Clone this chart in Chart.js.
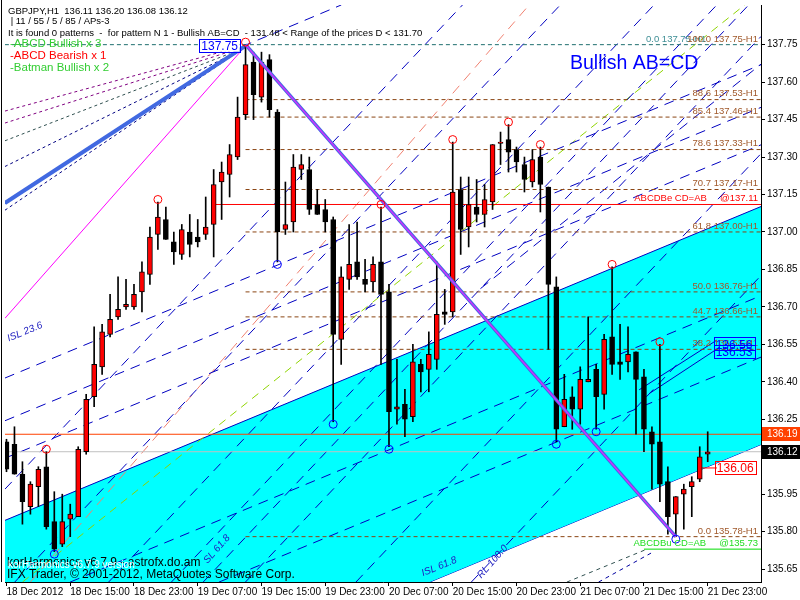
<!DOCTYPE html>
<html>
<head>
<meta charset="utf-8">
<script src="https://cdn.jsdelivr.net/npm/chart.js@4.4.1/dist/chart.umd.min.js"></script>
<style>
  html, body { margin: 0; padding: 0; background: #fff; }
  #wrap { width: 800px; height: 600px; }
</style>
</head>
<body>
<div id="wrap"><canvas id="chart" width="800" height="600"></canvas></div>
<script>
// GBPJPY H1 candles, bar 0 = 18 Dec 07:00
const opens = [136.16,136.15,136.03,135.90,135.98,136.06,135.84,135.75,135.85,135.86,
  136.12,136.34,136.46,136.59,136.66,136.70,136.70,136.76,136.83,136.99,
  137.05,136.96,136.91,137.00,136.98,136.99,137.03,137.20,137.23,137.30,
  137.47,137.68,137.54,137.69,137.48,137.01,137.04,137.25,137.25,137.11,
  137.09,137.05,136.57,136.81,136.88,136.81,136.80,136.88,136.76,136.29,
  136.31,136.26,136.47,136.45,136.49,136.68,136.68,137.17,137.02,137.10,
  137.07,137.12,137.355,137.37,137.33,137.27,137.20,137.30,137.18,136.78,
  136.22,136.34,136.29,136.40,136.45,136.35,136.58,136.48,136.48,136.52,
  136.42,136.20,136.16,136.00,135.87,135.95,135.98,136.01,136.11];
const highs = [136.17,136.22,136.08,136.00,136.06,136.12,135.96,135.95,135.91,136.14,
  136.35,136.62,136.63,136.75,136.82,136.81,136.79,136.88,137.02,137.12,
  137.10,137.00,137.03,137.07,137.05,137.14,137.25,137.28,137.35,137.54,
  137.75,137.72,137.72,137.71,137.49,137.20,137.31,137.31,137.30,137.17,
  137.13,137.06,136.86,137.03,137.04,136.89,136.90,137.10,136.79,136.49,
  136.37,136.55,136.49,136.60,136.88,136.77,137.36,137.22,137.22,137.21,
  137.19,137.35,137.40,137.43,137.34,137.30,137.33,137.34,137.18,136.82,
  136.43,136.38,136.46,136.66,136.47,136.59,136.86,136.63,136.62,136.52,
  136.45,136.22,136.55,136.06,135.94,135.99,136.02,136.14,136.20];
const lows = [136.04,136.03,135.83,135.87,135.90,135.81,135.72,135.74,135.78,135.86,
  136.11,136.30,136.43,136.58,136.65,136.69,136.69,136.68,136.79,136.93,
  136.97,136.87,136.89,136.90,136.94,136.97,136.90,137.05,137.14,137.29,
  137.45,137.45,137.52,137.46,136.88,136.99,137.00,137.21,137.07,137.07,
  137.00,136.24,136.47,136.77,136.81,136.76,136.76,136.47,136.14,136.23,
  136.18,136.24,136.36,136.36,136.45,136.63,136.66,136.91,136.94,137.04,
  137.02,137.09,137.27,137.24,137.24,137.16,137.18,137.08,136.53,136.16,
  136.22,136.21,136.23,136.40,136.21,136.29,136.43,136.41,136.44,136.19,
  136.12,135.97,135.92,135.79,135.78,135.81,135.86,136.00,136.08];
const closes = [136.05,136.03,135.92,135.99,136.05,135.82,135.73,135.84,135.87,136.13,
  136.33,136.47,136.60,136.65,136.69,136.71,136.75,136.84,136.98,137.06,
  136.97,136.92,137.01,136.95,136.96,137.02,137.19,137.24,137.31,137.46,
  137.67,137.55,137.68,137.49,137.00,137.03,137.26,137.27,137.09,137.07,
  137.04,136.59,136.82,136.87,136.82,136.79,136.87,136.75,136.28,136.30,
  136.25,136.48,136.44,136.51,136.67,136.67,137.16,137.01,137.11,137.07,
  137.13,137.35,137.36,137.32,137.28,137.21,137.29,137.19,136.79,136.21,
  136.33,136.29,136.41,136.41,136.34,136.57,136.47,136.47,136.51,136.41,
  136.21,136.15,135.99,135.86,135.94,135.97,136.00,136.10,136.12];

const xTickBars = [0, 8, 16, 24, 32, 40, 48, 56, 64, 72, 80, 88];
const xTickLabels = ['18 Dec 2012', '18 Dec 15:00', '18 Dec 23:00', '19 Dec 07:00', '19 Dec 15:00', '19 Dec 23:00',
  '20 Dec 07:00', '20 Dec 15:00', '20 Dec 23:00', '21 Dec 07:00', '21 Dec 15:00', '21 Dec 23:00'];
const yTicks = [137.75, 137.60, 137.45, 137.30, 137.15, 137.00, 136.85, 136.70, 136.55, 136.40, 136.25, 136.10, 135.95, 135.80, 135.65];

// fibo levels of the AB=CD leg
const fibLevels = [137.53, 137.46, 137.33, 137.17, 137.00, 136.76, 136.66, 136.53, 135.78];
const fibNames = ['88.6 137.53-H1', '85.4 137.46-H1', '78.6 137.33-H1', '70.7 137.17-H1', '61.8 137.00-H1',
  '50.0 136.76-H1', '44.7 136.66-H1', '38.2 136.53-H1', '0.0 135.78-H1'];

// pattern points
const highMarks = [5, 19, 30, 47, 56, 63, 67, 76, 82];
const lowMarks = [6, 34, 41, 48, 69, 74, 84];
const patternAD = [[30, 137.75], [84, 135.78]];

// channel edges [bar1, price1, bar2, price2]
const channelTop = [-0.2, 135.845, 94.7, 137.102];
const channelBottom = [-0.2, 134.892, 94.7, 136.149];

// pitchfork style dashed lines
const steepLines = [
  [-0.2, 135.970, 57.23, 137.909], [1.03, 135.598, 69.5, 137.909], [12.81, 135.598, 81.26, 137.909],
  [20.69, 135.598, 89.14, 137.909], [24.68, 135.598, 93.14, 137.909], [29.98, 135.598, 94.7, 137.783],
  [43.85, 135.598, 94.7, 137.314], [58.33, 135.598, 94.7, 136.826]
];
const slopeLines = [
  [-0.2, 136.415, 94.7, 137.670], [-0.2, 136.244, 94.7, 137.499], [-0.2, 136.094, 94.7, 137.349],
  [7.98, 135.598, 94.7, 136.745], [26.67, 135.598, 94.7, 136.499], [29.55, 137.742, 42.02, 137.909],
  [59.48, 136.773, 94.7, 137.672]
];
const fanLines = [
  [-0.2, 137.484, 28.0, 137.730, '#800080'], [-0.2, 137.436, 28.0, 137.722, '#800080'],
  [-0.2, 137.365, 28.0, 137.714, '#2f4f4f'], [-0.2, 137.262, 28.0, 137.706, '#000080'],
  [-0.2, 137.087, 28.0, 137.698, '#000080']
];
const salmonLine = [2.99, 135.598, 65.59, 137.909];
const greenLine = [2.0, 135.598, 92.64, 137.909];
const thickLine = [-0.2, 137.116, 30, 137.745];
const magentaLine = [-0.2, 136.654, 30, 137.745];
const bottomLines = [[70.32, 135.598, 80.3, 135.729, '#2f4f4f'], [74.3, 135.598, 81.05, 135.717, '#0000a0']];
const leaderLines = [[86.9, 136.055, 89.15, 136.055, '#ff0000'], [79.4, 136.368, 89.15, 136.567, '#0000c0'],
  [80.67, 136.353, 89.15, 136.531, '#0000c0']];

const FONT = "'Liberation Sans', Arial, sans-serif";

function seg(p, color, width, dash, order) {
  return {
    type: 'line',
    data: [{ x: p[0], y: p[1] }, { x: p[2], y: p[3] }],
    borderColor: color,
    borderWidth: width,
    borderDash: dash || [],
    pointRadius: 0,
    fill: false,
    tension: 0,
    order: order
  };
}

const bars = opens.map((o, i) => i);
const datasets = [];

// candles
datasets.push({
  type: 'bar',
  data: bars.map(i => ({ x: i, y: [opens[i], closes[i]] })),
  backgroundColor: bars.map(i => closes[i] >= opens[i] ? '#ff0000' : '#000000'),
  borderColor: '#000',
  borderWidth: 1,
  borderSkipped: false,
  barThickness: 5,
  grouped: false,
  order: 3
});
datasets.push({
  type: 'bar',
  data: bars.map(i => ({ x: i, y: [lows[i], highs[i]] })),
  backgroundColor: '#000',
  borderWidth: 0,
  barThickness: 1,
  grouped: false,
  order: 4
});

// pattern marks
datasets.push({
  type: 'line', showLine: false,
  data: highMarks.map(i => ({ x: i, y: highs[i] + 0.01 })),
  pointRadius: 4, pointBorderColor: '#ff0000', pointBackgroundColor: 'rgba(0,0,0,0)', pointBorderWidth: 1,
  order: 0
});
datasets.push({
  type: 'line', showLine: false,
  data: lowMarks.map(i => ({ x: i, y: lows[i] - 0.01 })),
  pointRadius: 4, pointBorderColor: '#0000ff', pointBackgroundColor: 'rgba(0,0,0,0)', pointBorderWidth: 1,
  order: 0
});

// AB=CD leg
const legAD = [patternAD[0][0], patternAD[0][1], patternAD[1][0], patternAD[1][1]];
datasets.push(seg(legAD, '#cc33ff', 1.5, null, 1));
datasets.push(seg(legAD, '#4169e1', 3.5, null, 2));

// horizontal levels
fibLevels.forEach(v => datasets.push(seg([30, v, 94.7, v], '#8b4513', 1, [4, 3], 5)));
datasets.push(seg([-0.2, 137.75, 94.7, 137.75], '#1f6f6f', 1, [4, 3], 5));
datasets.push(seg([26, 137.11, 94.7, 137.11], '#ff0000', 1, null, 5));
datasets.push(seg([-0.2, 136.19, 94.7, 136.19], '#ff4000', 1, null, 5));
datasets.push(seg([-0.2, 136.12, 94.7, 136.12], '#c0c0c0', 1, null, 5));
datasets.push(seg([80, 135.73, 94.7, 135.73], '#00dd00', 1, null, 5));
leaderLines.forEach(l => datasets.push(seg(l, l[4], 1, null, 5)));

// left fan into the peak
datasets.push(seg(thickLine, '#4169e1', 4, null, 6));
datasets.push(seg(magentaLine, '#ff00ff', 1, null, 6));
fanLines.forEach(l => datasets.push(seg(l, l[4], 1, [3, 3], 6)));

// dashed pitchfork lines
steepLines.forEach(l => datasets.push(seg(l, '#0000c0', 1, [10, 7], 7)));
slopeLines.forEach(l => datasets.push(seg(l, '#0000c0', 1, [10, 7], 7)));
datasets.push(seg(salmonLine, '#f08070', 1, [10, 7], 7));
datasets.push(seg(greenLine, '#8fd400', 1, [8, 6], 7));
bottomLines.forEach(l => datasets.push(seg(l, l[4], 1, [4, 4], 7)));

// cyan channel
const channelFill = seg(channelTop, '#0000c0', 1, null, 8);
channelFill.fill = '+1';
channelFill.backgroundColor = '#00ffff';
datasets.push(channelFill);
datasets.push(seg(channelBottom, '#0000c0', 1, null, 8));

const overlay = {
  id: 'overlay',
  afterDraw(chart) {
    const ctx = chart.ctx;
    const xs = chart.scales.x, ys = chart.scales.y, area = chart.chartArea;
    const px = b => xs.getPixelForValue(b);
    const py = p => ys.getPixelForValue(p);
    ctx.save();

    // left frame
    ctx.strokeStyle = '#000';
    ctx.lineWidth = 1;
    ctx.beginPath();
    ctx.moveTo(1.5, 0);
    ctx.lineTo(1.5, area.bottom);
    ctx.stroke();

    // fibo labels
    ctx.font = '9.5px ' + FONT;
    ctx.textBaseline = 'bottom';
    ctx.textAlign = 'left';
    ctx.fillStyle = '#3f8f96';
    ctx.fillText('0.0 137.75-H1', 646, py(137.75) - 1);
    ctx.textAlign = 'right';
    ctx.fillStyle = '#a0582a';
    ctx.fillText('100.0 137.75-H1', 758, py(137.75) - 1);
    fibLevels.forEach((v, i) => ctx.fillText(fibNames[i], 758, py(v) - 1));
    ctx.fillStyle = '#ff0000';
    ctx.fillText('ABCDBe CD=AB     @137.11', 758, py(137.11) - 1);
    ctx.fillStyle = '#22dd22';
    ctx.fillText('ABCDBu CD=AB     @135.73', 758, py(135.73) - 1);

    // boxed price labels
    function box(text, b, p, color) {
      ctx.font = '12px ' + FONT;
      const w = ctx.measureText(text).width + 4;
      const cx = px(b), cy = py(p);
      ctx.strokeStyle = color;
      ctx.strokeRect(Math.round(cx - w / 2) + 0.5, Math.round(cy - 7) + 0.5, Math.round(w), 13);
      ctx.fillStyle = color;
      ctx.textAlign = 'center';
      ctx.textBaseline = 'middle';
      ctx.fillText(text, cx, cy + 1);
    }
    ctx.fillStyle = '#fff';
    ctx.fillRect(px(26.75) - 21, py(137.746) - 7, 41, 13);
    box('137.75', 26.75, 137.746, '#0000ff');
    box('136.56', 91.3, 136.55, '#0000ff');
    box('136.53', 91.3, 136.52, '#0000ff');
    box('136.06', 91.45, 136.055, '#ff0000');

    // slope labels
    function rot(text, b, p, ang) {
      ctx.save();
      ctx.translate(px(b), py(p));
      ctx.rotate(ang);
      ctx.font = 'italic 10px ' + FONT;
      ctx.fillStyle = '#2020c0';
      ctx.textAlign = 'center';
      ctx.textBaseline = 'middle';
      ctx.fillText(text, 0, 0);
      ctx.restore();
    }
    rot('ISL 23.6', 2.3, 136.60, -0.39);
    rot('SL 61.8', 26.4, 135.73, -0.85);
    rot('ISL 61.8', 54.3, 135.66, -0.39);
    rot('RL 100.0', 61.0, 135.68, -0.85);

    // header texts
    ctx.textAlign = 'left';
    ctx.textBaseline = 'middle';
    ctx.fillStyle = '#000';
    ctx.font = '9.5px ' + FONT;
    ctx.fillText('GBPJPY,H1  136.11 136.20 136.08 136.12', 8, 11);
    ctx.fillText(' | 11 / 55 / 5 / 85 / APs-3', 8, 21);
    ctx.fillText('It is found 0 patterns  -  for pattern N 1 - Bullish AB=CD  - 131.48 < Range of the prices D < 131.70', 8, 33);
    ctx.font = '11.5px ' + FONT;
    ctx.fillStyle = '#32cd32';
    ctx.fillText('-ABCD Bullish x 3', 10, 44);
    ctx.fillStyle = '#ff0000';
    ctx.fillText('-ABCD Bearish x 1', 10, 56);
    ctx.fillStyle = '#32cd32';
    ctx.fillText('-Batman Bullish x 2', 10, 68);

    ctx.font = '19.5px ' + FONT;
    ctx.fillStyle = '#0000ff';
    ctx.fillText('Bullish AB=CD', 570, 64);

    // footer texts
    ctx.font = '12px ' + FONT;
    ctx.fillStyle = '#000';
    ctx.fillText('korHarmonics v6.7.9 - astrofx.do.am', 7, 563);
    ctx.fillText('IFX Trader, \u00a9 2001-2012, MetaQuotes Software Corp.', 7, 575);
    ctx.font = '10px ' + FONT;
    ctx.fillStyle = '#fff';
    ctx.fillText('korHarmonics v6.7.9 version', 8, 565);

    // price tags on the axis
    function tag(text, p, bg) {
      const y = Math.round(py(p));
      ctx.fillStyle = bg;
      ctx.fillRect(762, y - 7, 38, 14);
      ctx.fillStyle = '#fff';
      ctx.font = '10px ' + FONT;
      ctx.textAlign = 'left';
      ctx.textBaseline = 'middle';
      ctx.fillText(text, 767, y + 0.5);
    }
    tag('136.19', 136.19, '#ff4000');
    tag('136.12', 136.12, '#000000');
    ctx.restore();
  }
};

new Chart(document.getElementById('chart'), {
  type: 'bar',
  data: { datasets: datasets },
  options: {
    responsive: false,
    animation: false,
    devicePixelRatio: 1,
    layout: { padding: { left: 2, top: 0, right: 0, bottom: 0 } },
    plugins: { legend: { display: false }, tooltip: { enabled: false } },
    scales: {
      x: {
        type: 'linear',
        min: -0.1875,
        max: 94.6875,
        offset: false,
        bounds: 'data',
        grid: { display: true, offset: false, drawOnChartArea: false, drawTicks: true, tickLength: 4, color: '#000' },
        border: { display: true, color: '#000' },
        ticks: {
          autoSkip: false, maxRotation: 0, minRotation: 0, align: 'start', padding: 0,
          color: '#000', font: { family: FONT, size: 10 },
          callback: (v, i) => xTickLabels[i]
        },
        afterBuildTicks: s => { s.ticks = xTickBars.map(v => ({ value: v })); },
        afterFit: s => { s.height = 18; s.paddingLeft = 0; s.paddingRight = 0; s.paddingTop = 0; s.paddingBottom = 0; }
      },
      y: {
        type: 'linear',
        position: 'right',
        min: 135.5984,
        max: 137.9088,
        beginAtZero: false,
        bounds: 'data',
        grid: { display: true, drawOnChartArea: false, drawTicks: true, tickLength: 4, color: '#000' },
        border: { display: true, color: '#000' },
        ticks: {
          padding: 2, color: '#000', font: { family: FONT, size: 10 },
          callback: v => v.toFixed(2)
        },
        afterBuildTicks: s => { s.ticks = yTicks.map(v => ({ value: v })); },
        afterFit: s => { s.width = 39; s.paddingLeft = 0; s.paddingRight = 0; s.paddingTop = 0; s.paddingBottom = 0; }
      }
    }
  },
  plugins: [overlay]
});
</script>
</body>
</html>
